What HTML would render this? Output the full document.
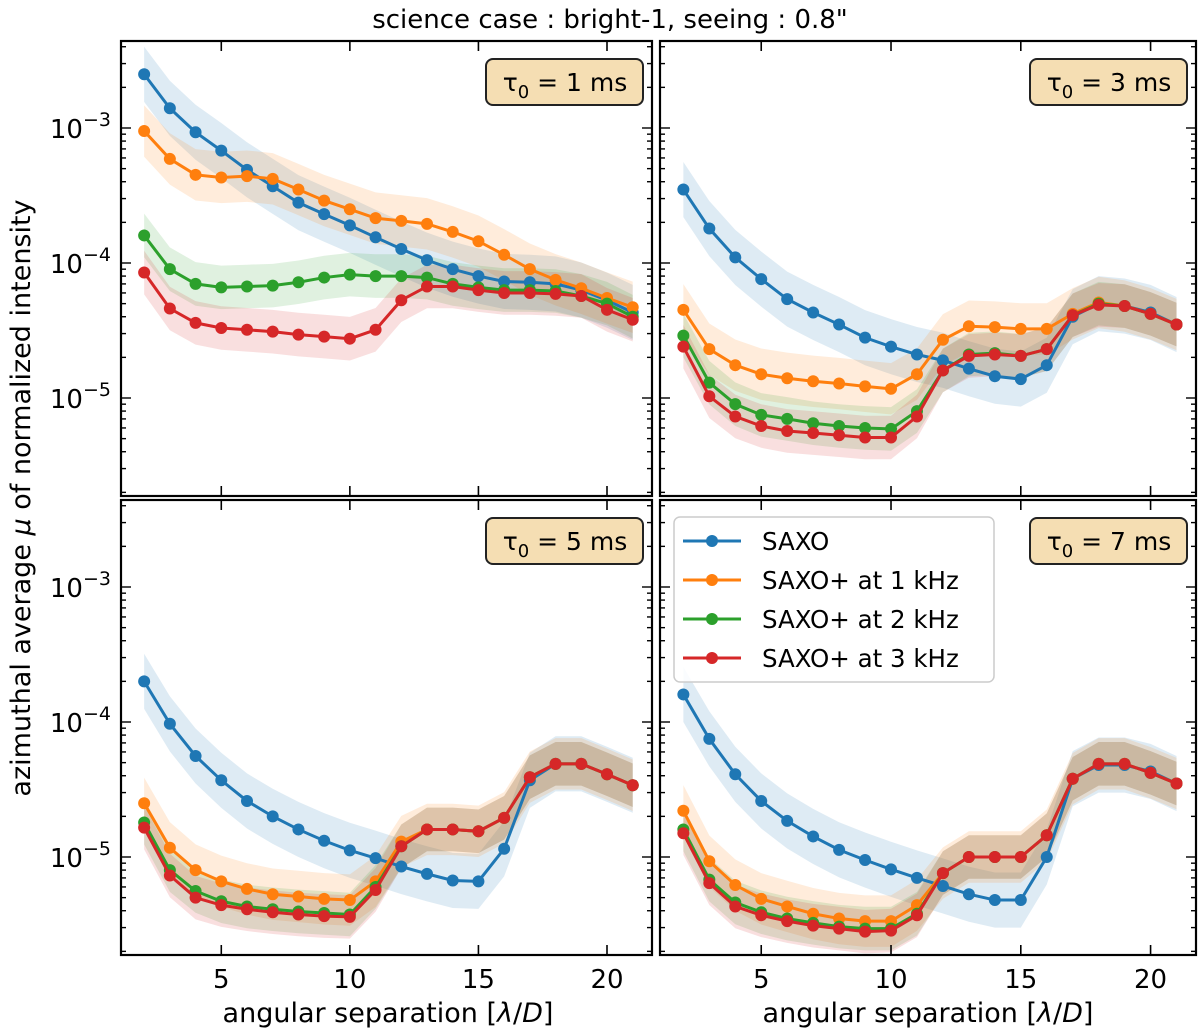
<!DOCTYPE html>
<html><head><meta charset="utf-8"><style>
body{margin:0;background:#fff;}
svg{display:block;font-family:"DejaVu Sans","Liberation Sans",sans-serif;}
</style></head><body>
<svg id="fig" width="1200" height="1033" viewBox="0 0 1200 1033" xmlns="http://www.w3.org/2000/svg">
<text x="610" y="28" font-size="26" text-anchor="middle">science case : bright-1, seeing : 0.8"</text>
<text transform="translate(30,498) rotate(-90)" font-size="27" text-anchor="middle">azimuthal average <tspan font-style="italic">μ</tspan> of normalized intensity</text>
<text x="388" y="1022" font-size="27" text-anchor="middle">angular separation [<tspan font-style="italic">λ</tspan>/<tspan font-style="italic">D</tspan>]</text>
<text x="928" y="1022" font-size="27" text-anchor="middle">angular separation [<tspan font-style="italic">λ</tspan>/<tspan font-style="italic">D</tspan>]</text>
</svg>
<script>
const xs=[2,3,4,5,6,7,8,9,10,11,12,13,14,15,16,17,18,19,20,21];
const xTicks=[5,10,15,20];
const yTicks=[-3,-4,-5];
const tauLabels=["1","3","5","7"];
const seriesNames=["SAXO","SAXO+ at 1 kHz","SAXO+ at 2 kHz","SAXO+ at 3 kHz"];
const colors=["#1f77b4","#ff7f0e","#2ca02c","#d62728"];
const bandFactor=[1.6,1.55,1.45,1.45];
const p1_saxo=[2.5e-3,1.4e-3,9.3e-4,6.8e-4,4.9e-4,3.7e-4,2.8e-4,2.3e-4,1.9e-4,1.55e-4,1.27e-4,1.05e-4,9e-5,8e-5,7.3e-5,7.2e-5,7e-5,6.3e-5,5.3e-5,4.3e-5];
const p1_k1=[9.5e-4,5.9e-4,4.5e-4,4.3e-4,4.4e-4,4.2e-4,3.5e-4,2.9e-4,2.5e-4,2.15e-4,2.05e-4,1.95e-4,1.7e-4,1.45e-4,1.15e-4,9e-5,7.5e-5,6.5e-5,5.5e-5,4.7e-5];
const p1_k2=[1.6e-4,9e-5,7e-5,6.6e-5,6.7e-5,6.8e-5,7.2e-5,7.8e-5,8.2e-5,8e-5,8e-5,7.8e-5,7e-5,6.6e-5,6.3e-5,6.3e-5,6.2e-5,5.7e-5,5e-5,4e-5];
const p1_k3=[8.5e-5,4.6e-5,3.6e-5,3.3e-5,3.2e-5,3.1e-5,2.95e-5,2.85e-5,2.75e-5,3.2e-5,5.3e-5,6.7e-5,6.7e-5,6.3e-5,6e-5,6e-5,5.9e-5,5.7e-5,4.5e-5,3.8e-5];
const p2_saxo=[3.5e-4,1.8e-4,1.1e-4,7.6e-5,5.4e-5,4.3e-5,3.5e-5,2.8e-5,2.4e-5,2.1e-5,1.9e-5,1.65e-5,1.45e-5,1.38e-5,1.75e-5,4e-5,5e-5,4.8e-5,4.3e-5,3.5e-5];
const p2_k1=[4.5e-5,2.3e-5,1.75e-5,1.5e-5,1.4e-5,1.33e-5,1.28e-5,1.22e-5,1.17e-5,1.5e-5,2.7e-5,3.4e-5,3.35e-5,3.25e-5,3.25e-5,4.2e-5,5.1e-5,4.8e-5,4.2e-5,3.5e-5];
const p2_k2=[2.9e-5,1.3e-5,9e-6,7.5e-6,7e-6,6.5e-6,6.2e-6,6e-6,5.9e-6,8e-6,1.6e-5,2.1e-5,2.15e-5,2.05e-5,2.3e-5,4.1e-5,5e-5,4.8e-5,4.2e-5,3.5e-5];
const p2_k3=[2.4e-5,1.03e-5,7.3e-6,6.2e-6,5.7e-6,5.5e-6,5.3e-6,5.1e-6,5.1e-6,7.3e-6,1.6e-5,2.05e-5,2.1e-5,2.05e-5,2.3e-5,4.1e-5,4.9e-5,4.8e-5,4.2e-5,3.5e-5];
const p3_saxo=[2e-4,9.7e-5,5.6e-5,3.7e-5,2.6e-5,2e-5,1.6e-5,1.32e-5,1.12e-5,9.8e-6,8.5e-6,7.5e-6,6.7e-6,6.6e-6,1.15e-5,3.7e-5,4.9e-5,4.9e-5,4.1e-5,3.4e-5];
const p3_k1=[2.5e-5,1.17e-5,8e-6,6.6e-6,5.8e-6,5.3e-6,5.1e-6,4.9e-6,4.8e-6,6.6e-6,1.3e-5,1.6e-5,1.6e-5,1.55e-5,1.95e-5,3.9e-5,4.9e-5,4.9e-5,4.1e-5,3.4e-5];
const p3_k2=[1.8e-5,8e-6,5.6e-6,4.7e-6,4.3e-6,4.1e-6,3.95e-6,3.85e-6,3.75e-6,6e-6,1.2e-5,1.6e-5,1.6e-5,1.55e-5,1.95e-5,3.9e-5,4.9e-5,4.9e-5,4.1e-5,3.4e-5];
const p3_k3=[1.65e-5,7.3e-6,5e-6,4.4e-6,4.1e-6,3.9e-6,3.75e-6,3.65e-6,3.6e-6,5.7e-6,1.2e-5,1.6e-5,1.6e-5,1.55e-5,1.95e-5,3.9e-5,4.9e-5,4.9e-5,4.1e-5,3.4e-5];
const p4_saxo=[1.6e-4,7.5e-5,4.1e-5,2.6e-5,1.85e-5,1.42e-5,1.13e-5,9.5e-6,8.1e-6,7e-6,6.1e-6,5.3e-6,4.8e-6,4.8e-6,1e-5,3.8e-5,4.8e-5,4.8e-5,4.3e-5,3.5e-5];
const p4_k1=[2.2e-5,9.3e-6,6.2e-6,4.9e-6,4.3e-6,3.8e-6,3.5e-6,3.35e-6,3.35e-6,4.4e-6,7.6e-6,1e-5,1e-5,1e-5,1.45e-5,3.8e-5,4.9e-5,4.9e-5,4.2e-5,3.5e-5];
const p4_k2=[1.6e-5,6.8e-6,4.6e-6,3.9e-6,3.5e-6,3.25e-6,3.05e-6,2.95e-6,2.95e-6,3.8e-6,7.6e-6,1e-5,1e-5,1e-5,1.45e-5,3.8e-5,4.9e-5,4.9e-5,4.2e-5,3.5e-5];
const p4_k3=[1.5e-5,6.4e-6,4.3e-6,3.7e-6,3.35e-6,3.1e-6,2.95e-6,2.8e-6,2.85e-6,3.7e-6,7.6e-6,1e-5,1e-5,1e-5,1.45e-5,3.8e-5,4.9e-5,4.9e-5,4.2e-5,3.5e-5];
const panelSeries=[[p1_saxo,p1_k1,p1_k2,p1_k3],[p2_saxo,p2_k1,p2_k2,p2_k3],[p3_saxo,p3_k1,p3_k2,p3_k3],[p4_saxo,p4_k1,p4_k2,p4_k3]];

const NS="http://www.w3.org/2000/svg";
const svg=document.getElementById('fig');
function mk(tag,attrs,parent){const e=document.createElementNS(NS,tag);for(const k in attrs)e.setAttribute(k,attrs[k]);(parent||svg).appendChild(e);return e;}
const panels=[{x0:121,x1:652,y0:41,y1:496},{x0:660,x1:1196,y0:41,y1:496},{x0:121,x1:652,y0:500,y1:955},{x0:660,x1:1196,y0:500,y1:955}];
const DEC=135;
panelSeries.forEach((ser,pi)=>{
  const P=panels[pi];
  const xsc=(P.x1-P.x0)/20.65;
  const X=v=>P.x0+(v-1.1)*xsc;
  const Y=v=>P.y0+87+(-3-Math.log10(v))*DEC;
  const g=mk('g',{});
  
  
  const cid='clip'+pi;
  const cp=mk('clipPath',{id:cid},g);mk('rect',{x:P.x0,y:P.y0,width:P.x1-P.x0,height:P.y1-P.y0},cp);
  const plot=mk('g',{'clip-path':'url(#'+cid+')'},g);
  ser.forEach((arr,si)=>{
    const f=bandFactor[si];
    let d='M'+xs.map((x,i)=>X(x)+','+Y(arr[i]*f)).join('L');
    for(let i=xs.length-1;i>=0;i--)d+='L'+X(xs[i])+','+Y(arr[i]/f);
    const b=mk('path',{d:d+'Z',fill:colors[si],'fill-opacity':0.15,stroke:'none'},plot);
    
    
  });
  ser.forEach((arr,si)=>{
    const sg=mk('g',{},plot);
    
    
    mk('polyline',{points:xs.map((x,i)=>X(x)+','+Y(arr[i])).join(' '),fill:'none',stroke:colors[si],'stroke-width':3},sg);
    xs.forEach((x,i)=>{const c=mk('circle',{cx:X(x),cy:Y(arr[i]),r:6,fill:colors[si]},sg);
      
      });
  });
  xTicks.forEach(t=>{
    mk('line',{x1:X(t),x2:X(t),y1:P.y1,y2:P.y1-10,stroke:'#000','stroke-width':1.6},g);
    mk('line',{x1:X(t),x2:X(t),y1:P.y0,y2:P.y0+10,stroke:'#000','stroke-width':1.6},g);
    if(pi>=2){const tx=mk('text',{x:X(t),y:P.y1+33,'font-size':26,'text-anchor':'middle'},g);tx.textContent=t;
      
      }
  });
  for(let e=-6;e<=-2;e++){for(let m=1;m<=9;m++){
    const v=m*Math.pow(10,e);const y=Y(v);if(y<P.y0||y>P.y1)continue;
    const L=m==1?10:5;
    mk('line',{x1:P.x0,x2:P.x0+L,y1:y,y2:y,stroke:'#000','stroke-width':1.4},g);
    mk('line',{x1:P.x1,x2:P.x1-L,y1:y,y2:y,stroke:'#000','stroke-width':1.4},g);
  }}
  if(pi%2==0){yTicks.forEach(t=>{
    const tx=mk('text',{x:P.x0-10,y:Y(Math.pow(10,t))+10,'font-size':26,'text-anchor':'end'},g);
    tx.innerHTML='10<tspan dy="-12" font-size="19">−'+(-t)+'</tspan>';
    
    
  });}
  mk('rect',{x:P.x0,y:P.y0,width:P.x1-P.x0,height:P.y1-P.y0,fill:'none',stroke:'#000','stroke-width':2.2},g);
  const bx=P.x1-166,by=P.y0+18;
  const tb=mk('g',{},g);
  
  
  mk('rect',{x:bx,y:by,width:157,height:46,rx:7,fill:'#f5deb3',stroke:'#222','stroke-width':2},tb);
  const tt=mk('text',{x:bx+79,y:by+32,'font-size':25,'text-anchor':'middle'},tb);
  tt.innerHTML='τ<tspan dy="7" font-size="18">0</tspan><tspan dy="-7"> = '+tauLabels[pi]+' ms</tspan>';
});
const lg=mk('g',{});


mk('rect',{x:674,y:517,width:320,height:165,rx:6,fill:'#fff','fill-opacity':0.85,stroke:'#ccc','stroke-width':1.5},lg);
seriesNames.forEach((n,i)=>{
  const y=541+i*39;
  const e=mk('g',{},lg);
  
  
  mk('line',{x1:683,x2:741,y1:y,y2:y,stroke:colors[i],'stroke-width':3},e);
  mk('circle',{cx:712,cy:y,r:6,fill:colors[i]},e);
  const t=mk('text',{x:762,y:y+9,'font-size':24.5},e);t.textContent=n;
});
</script>
</body></html>
